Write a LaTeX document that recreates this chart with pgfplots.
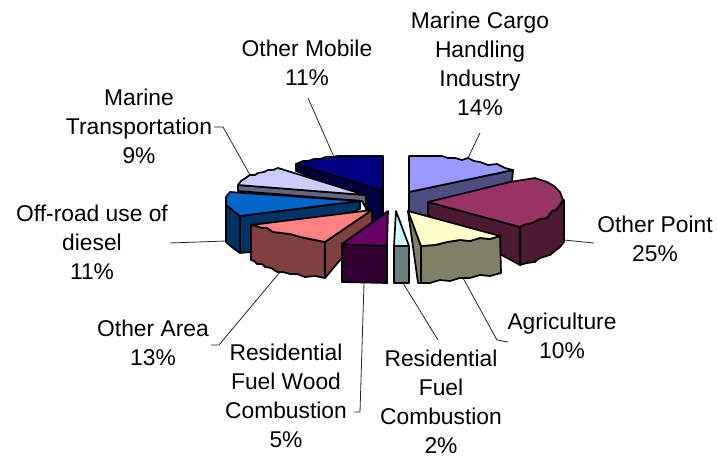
\documentclass[border=0pt]{standalone}
\usepackage{pgfplots}
\pgfplotsset{compat=1.18}
\usepackage{fontspec}
\setmainfont{Liberation Sans}
\definecolor{navyT}{HTML}{000080}\definecolor{navyS}{HTML}{000040}
\definecolor{lavT}{HTML}{CCCCFF}\definecolor{lavS}{HTML}{666680}
\definecolor{bluT}{HTML}{0066CC}\definecolor{bluS}{HTML}{003366}
\definecolor{salT}{HTML}{FF8080}\definecolor{salS}{HTML}{804040}
\definecolor{purT}{HTML}{660066}\definecolor{purS}{HTML}{330033}
\definecolor{cyaT}{HTML}{CCFFFF}\definecolor{cyaS}{HTML}{668080}
\definecolor{yelT}{HTML}{FFFFCC}\definecolor{yelS}{HTML}{808066}
\definecolor{ptT}{HTML}{993366}\definecolor{ptS}{HTML}{4D1A33}
\definecolor{perT}{HTML}{9999FF}\definecolor{perS}{HTML}{4D4D80}
\pgfplotsset{
 face/.style={fill=#1,draw=black,line width=1.7pt,line join=round,mark=none},
 lead/.style={draw=black!85,line width=0.8pt,mark=none},
}
\tikzset{lab/.style={font=\fontsize{22.8}{29}\selectfont,align=center,inner sep=0pt,anchor=center,text=black}}
\begin{document}
\begin{tikzpicture}
\path[use as bounding box] (0,0) rectangle (717pt,458pt);
\begin{axis}[at={(0,0)},anchor=south west,scale only axis,width=717pt,height=458pt,
 xmin=0,xmax=717,ymin=0,ymax=458,y dir=reverse,hide axis,clip=false]
% leader lines
\addplot[lead] coordinates {(308,98)(334,157)};
\addplot[lead] coordinates {(214,127)(223,127)(250,175)};
\addplot[lead] coordinates {(170,243)(226,241)};
\addplot[lead] coordinates {(211,345)(219,345)(280,272)};
\addplot[lead] coordinates {(354,412)(360,412)(364,283)};
\addplot[lead] coordinates {(438,340)(403,283)};
\addplot[lead] coordinates {(508,342)(497,340)(463,278)};
\addplot[lead] coordinates {(564,240)(594,243)};
\addplot[lead] coordinates {(468,158)(480,133)};
% Other Mobile
\addplot[face=navyS] coordinates {(296,164)(296,171)(366,200)(366,224)(373,224)(383,215)(383,191)} -- cycle;
\addplot[face=navyT] coordinates {(296,164)(303,161)(308,161)(314,159)(320,159)(326,157)(332,157)(338,156)(345,156)(383,156)(383,191)} -- cycle;
% Marine Transportation
\addplot[face=lavS] coordinates {(238,185)(238,191)(362,201)(366,208)(366,195)} -- cycle;
\addplot[face=lavT] coordinates {(238,185)(241,181)(250,175)(255,175)(258,173)(264,172)(268,170)(273,170)(278,168)(365,195)} -- cycle;
% Off-road
\addplot[face=bluS] coordinates {(226,205)(226,242)(233,248)(240,253)(251,252)(360,209)(360,201)(240,216)} -- cycle;
\addplot[face=bluS] coordinates {(240,216)(240,253)} ;
\addplot[face=bluT] coordinates {(230,192)(226,197)(226,205)(240,216)(360,201)} -- cycle;
% Other Area
\addplot[face=salS] coordinates {(325,242)(372,210)(372,222)(325,278)} -- cycle;
\addplot[face=salS] coordinates {(251,225)(251,260)(254,261)(257,264)(262,264)(265,267)(271,268)(277,272)(283,272)(290,274)(297,274)(305,277)(315,276)(325,278)(325,242)(315,240)(305,238)(297,236)(290,234)(281,233)(273,232)(267,228)(262,228)(256,226)} -- cycle;
\addplot[face=salT] coordinates {(251,225)(256,226)(262,228)(267,228)(273,232)(281,233)(290,234)(297,236)(305,238)(315,240)(325,242)(372,210)} -- cycle;
% Residential Fuel Wood
\addplot[face=purS] coordinates {(342,244)(342,282)(387,283)(387,246)} -- cycle;
\addplot[face=purT] coordinates {(388,211)(342,244)(360,245)(387,246)} -- cycle;
% Residential Fuel Combustion
\addplot[face=cyaS] coordinates {(394,246)(394,283)(409,283)(409,246)} -- cycle;
\addplot[face=cyaT] coordinates {(396,211)(394,246)(409,246)} -- cycle;
% Marine Cargo
\addplot[face=perS] coordinates {(409,192)(409,220)(440,215)(512,182)(513,170)} -- cycle;
\addplot[face=perT] coordinates {(409,156)(442,156)(448,158)(455,158)(462,160)(468,158)(474,161)(480,162)(488,165)(497,164)(505,168)(513,170)(409,192)} -- cycle;
% Other Point
\addplot[face=ptS] coordinates {(520,227)(520,265)(527,263)(535,262)(538,259)(543,257)(550,255)(556,250)(560,247)(564,242)(564,200)(559,206)(556,210)(552,211)(547,218)(540,219)(532,223)(526,224)} -- cycle;
\addplot[face=ptS] coordinates {(428,202)(428,215)(520,265)(520,227)} -- cycle;
\addplot[face=ptT] coordinates {(428,202)(520,227)(526,224)(532,223)(540,219)(547,218)(552,211)(556,210)(559,206)(563,200)(560,192)(554,186)(547,182)(535,178)(510,182)} -- cycle;
% Agriculture
\addplot[face=yelS] coordinates {(408,211)(418,283)(421,283)(421,246)} -- cycle;
\addplot[face=yelS] coordinates {(421,246)(421,283)(430,283)(440,280)(450,281)(460,278)(470,278)(480,275)(490,276)(501,273)(500,236)(490,239)(480,238)(470,241)(460,240)(447,242)(435,245)} -- cycle;
\addplot[face=yelT] coordinates {(408,211)(421,246)(435,245)(447,242)(460,240)(470,241)(480,238)(490,239)(500,236)} -- cycle;
% labels
\node[lab] at (axis cs:480,64) {Marine Cargo\\Handling\\Industry\\14\%};
\node[lab] at (axis cs:307,63) {Other Mobile\\11\%};
\node[lab] at (axis cs:139,126) {Marine\\Transportation\\9\%};
\node[lab] at (axis cs:92,242) {Off-road use of\\diesel\\11\%};
\node[lab] at (axis cs:153,343) {Other Area\\13\%};
\node[lab] at (axis cs:286,396) {Residential\\Fuel Wood\\Combustion\\5\%};
\node[lab] at (axis cs:441,402) {Residential\\Fuel\\Combustion\\2\%};
\node[lab] at (axis cs:562,336) {Agriculture\\10\%};
\node[lab] at (axis cs:655,239) {Other Point\\25\%};
\end{axis}
\end{tikzpicture}
\end{document}
